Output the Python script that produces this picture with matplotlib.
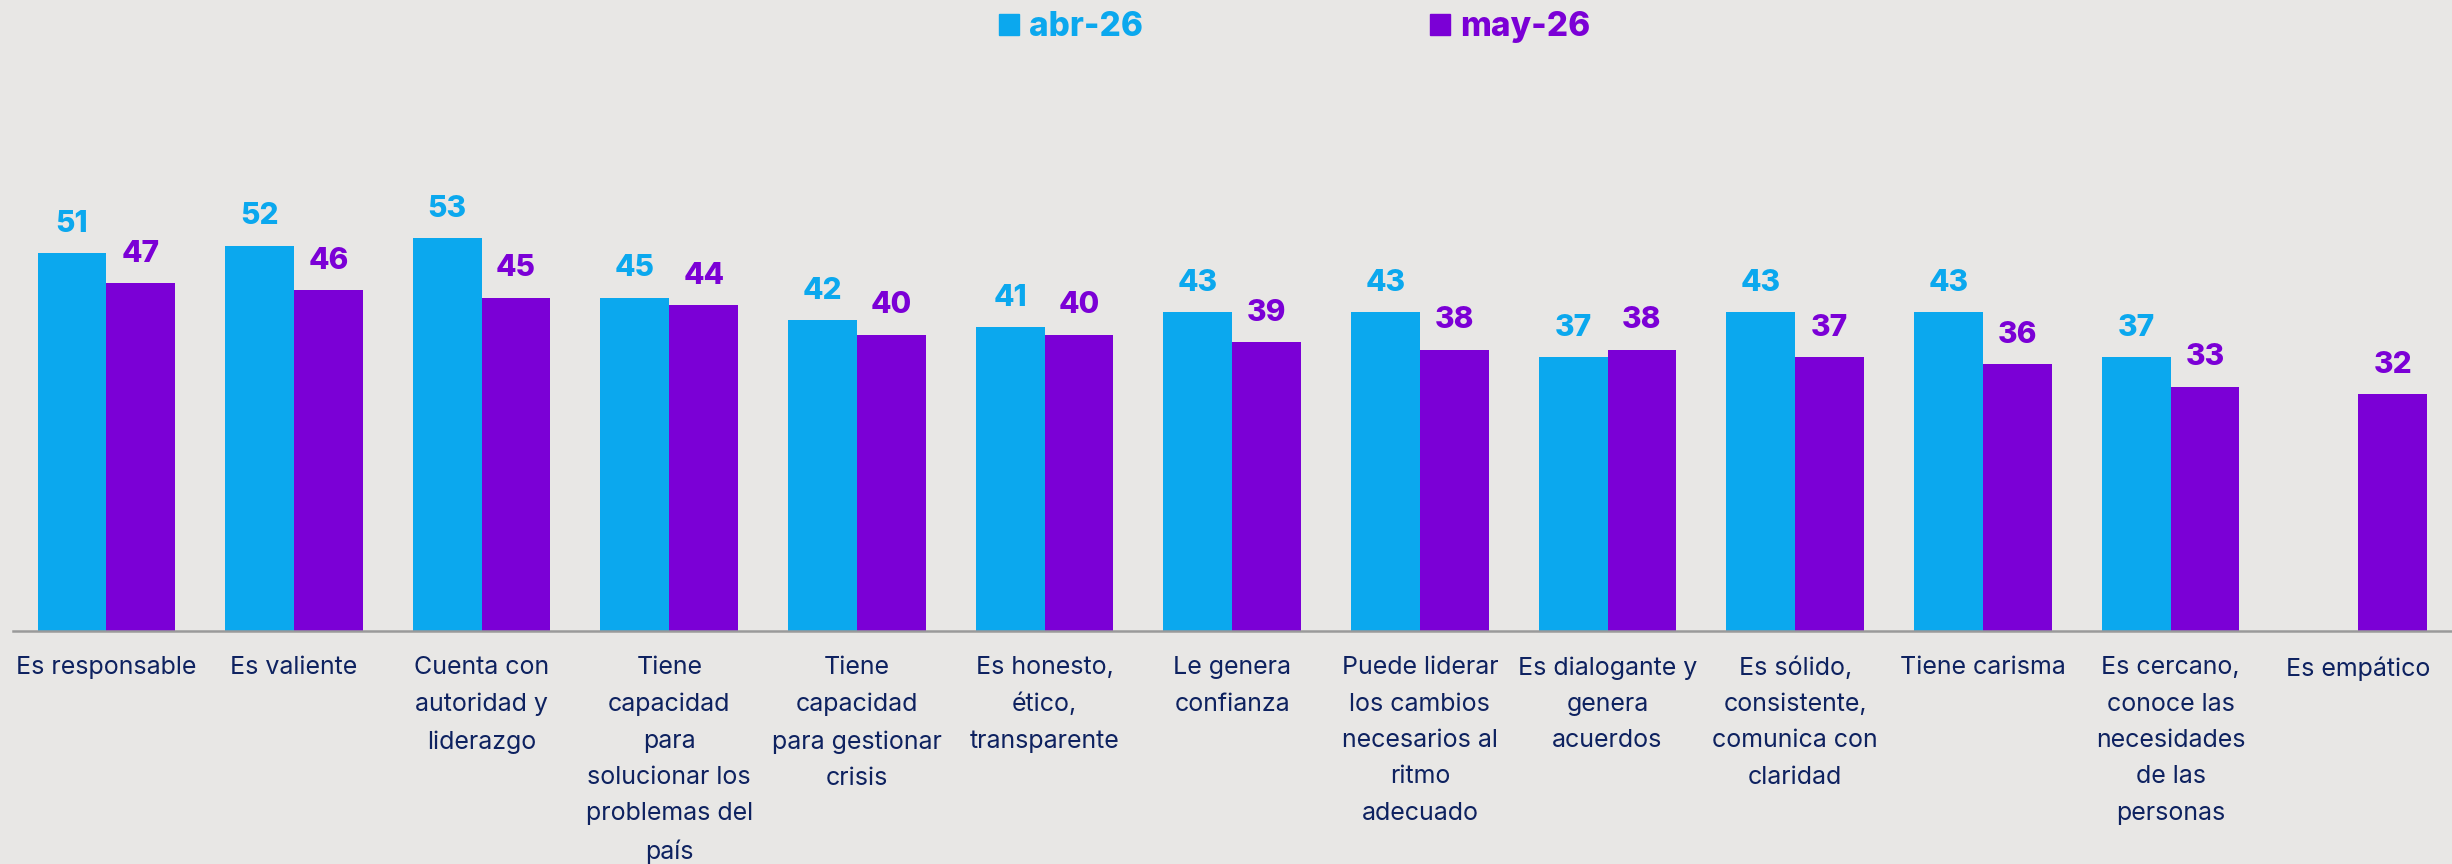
import numpy as np
import matplotlib
matplotlib.use("Agg")
import matplotlib.pyplot as plt
from matplotlib.patches import Patch

categories = [
    "Es responsable",
    "Es valiente",
    "Cuenta con\nautoridad y\nliderazgo",
    "Tiene\ncapacidad\npara\nsolucionar los\nproblemas del\npaís",
    "Tiene\ncapacidad\npara gestionar\ncrisis",
    "Es honesto,\nético,\ntransparente",
    "Le genera\nconfianza",
    "Puede liderar\nlos cambios\nnecesarios al\nritmo\nadecuado",
    "Es dialogante y\ngenera\nacuerdos",
    "Es sólido,\nconsistente,\ncomunica con\nclaridad",
    "Tiene carisma",
    "Es cercano,\nconoce las\nnecesidades\nde las\npersonas",
    "Es empático",
]
abr_26 = [51, 52, 53, 45, 42, 41, 43, 43, 37, 43, 43, 37, np.nan]
may_26 = [47, 46, 45, 44, 40, 40, 39, 38, 38, 37, 36, 33, 32]
series_names = ["abr-26", "may-26"]

BG = "#E8E7E5"
BLUE = "#0BA8EE"
PURPLE = "#7B00D6"
NAVY = "#0E2260"

plt.rcParams['font.family'] = ['Inter', 'DejaVu Sans']

fig = plt.figure(figsize=(24.52, 8.64), dpi=100, facecolor=BG)
ax = fig.add_axes([0.0051, 0.2694, 0.9949, 0.6006])
ax.set_facecolor(BG)

x = np.arange(len(categories))
w = 0.3667
b1 = ax.bar(x - w / 2, abr_26, width=w, color=BLUE, label=series_names[0])
b2 = ax.bar(x + w / 2, may_26, width=w, color=PURPLE, label=series_names[1])

for bars, vals, col in [(b1, abr_26, BLUE), (b2, may_26, PURPLE)]:
    for rect, v in zip(bars, vals):
        if np.isnan(v):
            continue
        ax.annotate(f"{int(v)}", (rect.get_x() + rect.get_width() / 2, v),
                    xytext=(0, 11), textcoords="offset points",
                    ha="center", va="bottom", fontsize=21.5, fontweight="heavy",
                    color=col)

ax.set_xlim(-0.5, 12.5)
ax.set_ylim(0, 70)
ax.set_yticks([])
for s in ["top", "right", "left"]:
    ax.spines[s].set_visible(False)
ax.spines["bottom"].set_color("#9A9A9A")
ax.spines["bottom"].set_linewidth(1.8)
ax.set_xticks(x)
ax.set_xticklabels(categories, fontsize=18, color=NAVY, linespacing=1.74,
                   va="top", ha="center")
ax.tick_params(axis="x", length=0, pad=18)

handles = [Patch(color=BLUE), Patch(color=PURPLE)]
leg = fig.legend(handles, series_names, loc="upper center",
                 bbox_to_anchor=(0.528, 1.022), ncol=2, frameon=False,
                 handlelength=0.6, handleheight=0.6, handletextpad=0.3,
                 columnspacing=8.6,
                 prop={"size": 24, "weight": "heavy"})
for t, c in zip(leg.get_texts(), [BLUE, PURPLE]):
    t.set_color(c)

fig.savefig("out.png", dpi=100, facecolor=BG)
